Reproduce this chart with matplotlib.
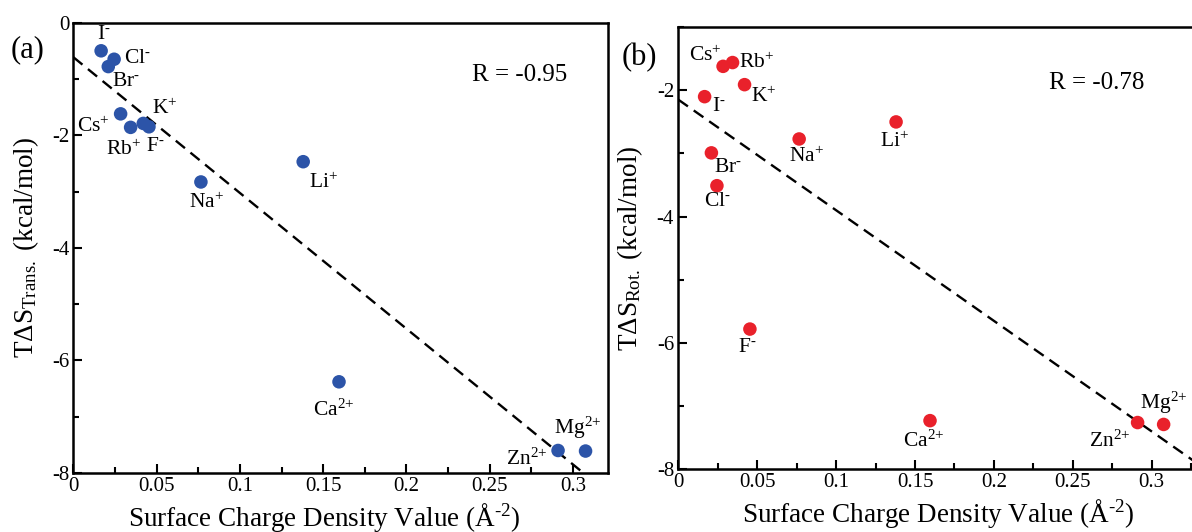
import numpy as np
import matplotlib.pyplot as plt
from matplotlib.ticker import FixedLocator, MultipleLocator

plt.rcParams['font.family'] = 'Liberation Serif'
plt.rcParams['mathtext.fontset'] = 'custom'
plt.rcParams['mathtext.rm'] = 'Liberation Serif'
plt.rcParams['mathtext.it'] = 'Liberation Serif:italic'
plt.rcParams['axes.unicode_minus'] = False

# ions, their charge and surface charge density (A^-2)
ions = ['I', 'Cl', 'Br', 'Cs', 'Rb', 'K', 'F', 'Na', 'Li', 'Ca', 'Zn', 'Mg']
charges = ['-', '-', '-', '+', '+', '+', '-', '+', '+', '2+', '2+', '2+']
density = [0.0167, 0.0245, 0.0210, 0.0284, 0.0344, 0.0420, 0.0454, 0.0766,
           0.1380, 0.1595, 0.2910, 0.3075]

# T*dS components (kcal/mol)
ts_trans = [-0.50, -0.65, -0.78, -1.62, -1.86, -1.79, -1.85, -2.83,
            -2.47, -6.38, -7.60, -7.61]
ts_rot = [-2.10, -3.51, -2.99, -1.62, -1.56, -1.91, -5.78, -2.77,
          -2.50, -7.23, -7.26, -7.29]

r_trans = '-0.95'
r_rot = '-0.78'

xticks = [0, 0.05, 0.1, 0.15, 0.2, 0.25, 0.3]
xticklabels = ['0', '0.05', '0.1', '0.15', '0.2', '0.25', '0.3']

# label offsets in pixels (dx, dy) from each marker
off_a = {'I': (3, 16), 'Cl': (23, 1), 'Br': (18, -15), 'Cs': (-27, -13),
         'Rb': (-7, -23), 'K': (21, 14), 'F': (6, -20), 'Na': (6, -21),
         'Li': (20, -21), 'Ca': (-5, -28), 'Zn': (-31, -9), 'Mg': (-8, 23)}
off_b = {'I': (14, -10), 'Cl': (1, -16), 'Br': (17, -15), 'Cs': (-18, 10),
         'Rb': (24, 0), 'K': (19, -12), 'F': (-3, -18), 'Na': (7, -18),
         'Li': (-2, -20), 'Ca': (-6, -21), 'Zn': (-28, -19), 'Mg': (0, 22)}

fig = plt.figure(figsize=(11.92, 5.32), dpi=100)
ax1 = fig.add_axes([0.0615, 0.1109, 0.4486, 0.8465])
ax2 = fig.add_axes([0.569, 0.1179, 0.437, 0.831])


def panel(ax, ts, color, offsets, xmax, ylim, ymajor, ylabel, rtext, rpos):
    x = np.array(density)
    y = np.array(ts)
    slope, icpt = np.polyfit(x, y, 1)
    xl = np.array([0, xmax])
    ax.plot(xl, slope*xl + icpt, color='black', lw=1.7, dashes=(5, 3), zorder=2)
    ax.scatter(x, y, s=95, color=color, edgecolors='none', zorder=3)
    for ion, ch, xi, yi in zip(ions, charges, x, y):
        ax.annotate(ion + r'$^{\text{' + ch + '}}$', (xi, yi),
                    xytext=offsets[ion], textcoords='offset pixels',
                    ha='center', va='center', fontsize=15.5)
    ax.set_xlim(0, xmax)
    ax.set_ylim(*ylim)
    ax.xaxis.set_major_locator(FixedLocator(xticks))
    ax.set_xticklabels(xticklabels)
    ax.xaxis.set_minor_locator(MultipleLocator(0.025))
    ax.yaxis.set_major_locator(FixedLocator(ymajor))
    ax.set_yticklabels([str(v) for v in ymajor])
    ax.yaxis.set_minor_locator(MultipleLocator(1))
    ax.tick_params(which='both', direction='in', top=False, right=False,
                   labelsize=15, width=1.5, pad=3)
    ax.tick_params(which='major', length=6.5)
    ax.tick_params(which='minor', length=4.3)
    for sp in ax.spines.values():
        sp.set_linewidth(1.8)
    ax.set_xlabel(r'Surface Charge Density Value ($\mathrm{\AA}^{\text{-2}}$)', fontsize=19.5)
    ax.set_ylabel(ylabel, fontsize=19.5)
    ax.text(rpos[0], rpos[1], 'R = ' + rtext, transform=ax.transAxes,
            ha='center', va='center', fontsize=18)


panel(ax1, ts_trans, '#2c54a8', off_a, 0.321, (-8, 0), [0, -2, -4, -6, -8],
      r'T$\Delta$S$_{\mathrm{Trans.}}$ (kcal/mol)', r_trans, (0.835, 0.884))
panel(ax2, ts_rot, '#e9212b', off_b, 0.33, (-8, -1), [-2, -4, -6, -8],
      r'T$\Delta$S$_{\mathrm{Rot.}}$ (kcal/mol)', r_rot, (0.803, 0.874))

ax1.xaxis.set_label_coords(0.469, -0.062)
ax2.xaxis.set_label_coords(0.5, -0.062)
ax1.yaxis.set_label_coords(-0.06, 0.5)
ax2.yaxis.set_label_coords(-0.063, 0.5)

fig.text(28/1192, 1 - 50/532, '(a)', ha='center', va='center', fontsize=22)
fig.text(639/1192, 1 - 58/532, '(b)', ha='center', va='center', fontsize=22)

fig.savefig('out.png', dpi=100)
